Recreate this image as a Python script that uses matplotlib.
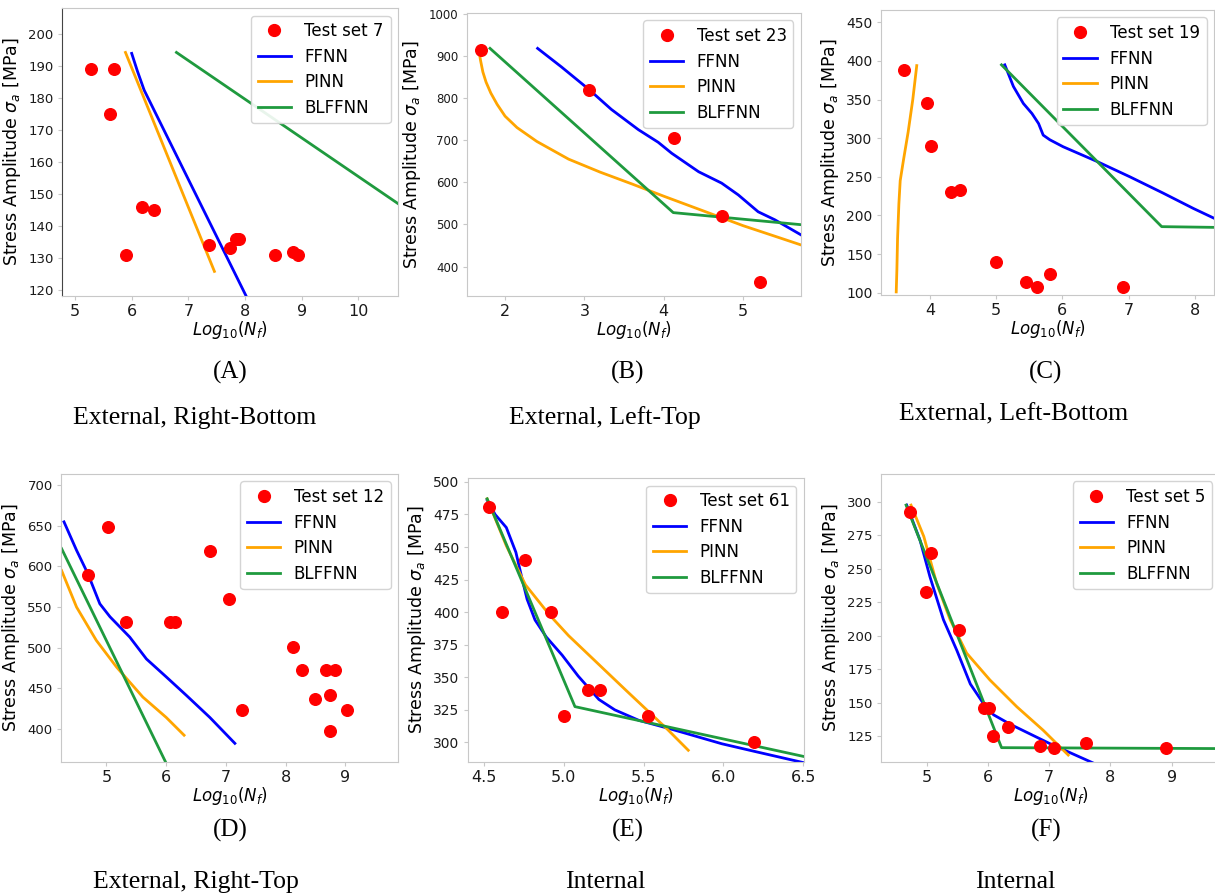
import matplotlib
matplotlib.use("Agg")
import matplotlib.pyplot as plt
from matplotlib.lines import Line2D
import numpy as np

# --- Данные ---
# (A) Test set 7
a_test_x = [5.29, 5.68, 5.62, 5.90, 6.18, 6.39, 7.37, 7.74, 7.84, 7.89, 8.53, 8.84, 8.93]
a_test_y = [189, 189, 175, 131, 146, 145, 134, 133, 136, 136, 131, 132, 131]
a_ffnn_x = [6.00, 6.10, 6.22, 8.05]
a_ffnn_y = [194, 188.5, 182.5, 117]
a_pinn_x = [5.89, 7.46]
a_pinn_y = [194.3, 125.8]
a_bl_x = [6.79, 10.8]
a_bl_y = [194.3, 145.8]

# (B) Test set 23
b_test_x = [1.70, 3.06, 4.13, 4.73, 5.21]
b_test_y = [913, 819, 704, 519, 364]
b_ffnn_x = [2.41, 2.71, 3.06, 3.34, 3.68, 3.93, 4.10, 4.44, 4.73, 4.94, 5.19, 5.40, 5.75]
b_ffnn_y = [918, 874, 820, 773, 725, 695, 669, 625, 598, 570, 530, 511, 473]
b_pinn_x = [1.67, 1.69, 1.72, 1.76, 1.82, 1.90, 2.00, 2.15, 2.40, 2.80, 3.20, 3.60, 4.00, 4.50, 5.00, 5.40, 5.75]
b_pinn_y = [914, 890, 862, 838, 812, 785, 757, 730, 697, 655, 624, 596, 567, 532, 497, 472, 450]
b_bl_x = [1.81, 4.12, 5.75]
b_bl_y = [918, 528, 499]

# (C) Test set 19
c_test_x = [3.61, 3.95, 4.02, 4.32, 4.45, 5.00, 5.45, 5.61, 5.82, 6.92]
c_test_y = [388, 346, 290, 230, 233, 140, 114, 107, 124, 107]
c_ffnn_x = [5.13, 5.26, 5.41, 5.54, 5.64, 5.71, 5.81, 6.01, 6.52, 7.02, 7.52, 7.98, 8.35]
c_ffnn_y = [395, 367, 345, 332, 319, 304, 298, 289, 270, 250, 229, 209, 194]
c_pinn_x = [3.49, 3.50, 3.51, 3.53, 3.55, 3.60, 3.67, 3.74, 3.80]
c_pinn_y = [101, 130, 170, 215, 245, 272, 308, 350, 394]
c_bl_x = [5.08, 7.50, 8.35]
c_bl_y = [395, 185.5, 184.5]

# (D) Test set 12
d_test_x = [4.70, 5.03, 5.33, 6.07, 6.14, 6.74, 7.06, 7.27, 8.12, 8.27, 8.49, 8.67, 8.83, 8.74, 8.74, 9.02]
d_test_y = [590, 649, 531, 531, 531, 619, 560, 423, 501, 472, 437, 472, 472, 442, 397, 423]
d_ffnn_x = [4.29, 4.50, 4.69, 4.89, 5.06, 5.39, 5.67, 6.00, 6.34, 6.73, 7.15]
d_ffnn_y = [655, 620, 591, 554, 538, 513, 486, 464, 441, 414, 382]
d_pinn_x = [4.25, 4.50, 4.83, 5.17, 5.61, 6.00, 6.30]
d_pinn_y = [595, 550, 509, 476, 439, 414, 392]
d_bl_x = [4.25, 6.01]
d_bl_y = [622, 356]

# (E) Test set 61
e_test_x = [4.53, 4.61, 4.76, 4.92, 5.00, 5.15, 5.23, 5.53, 6.19]
e_test_y = [481, 400, 440, 400, 320, 340, 340, 320, 300]
e_ffnn_x = [4.52, 4.57, 4.64, 4.70, 4.74, 4.77, 4.82, 4.89, 4.99, 5.09, 5.22, 5.32, 5.47, 5.68, 5.99, 6.20, 6.52]
e_ffnn_y = [486, 475, 465, 446, 425, 410, 394, 381, 367, 351, 333, 325, 317, 310, 299, 293, 284]
e_pinn_x = [4.52, 4.64, 4.76, 4.91, 5.03, 5.15, 5.27, 5.39, 5.52, 5.65, 5.78]
e_pinn_y = [487, 451, 421, 398, 382, 368, 354, 340, 325, 310, 294]
e_bl_x = [4.52, 5.07, 6.55]
e_bl_y = [487, 327.5, 288]

# (F) Test set 5
f_test_x = [4.72, 5.07, 4.99, 5.53, 5.93, 6.01, 6.08, 6.32, 6.85, 7.08, 7.60, 8.91]
f_test_y = [292, 262, 233, 204, 146, 146, 125, 132, 118, 116.5, 120, 116.5]
f_ffnn_x = [4.67, 4.89, 5.05, 5.27, 5.49, 5.71, 5.93, 6.09, 6.36, 7.01, 7.72]
f_ffnn_y = [297.5, 271, 244, 212, 189, 164, 149, 141, 134, 119.5, 105]
f_pinn_x = [4.74, 4.95, 5.16, 5.38, 5.65, 6.03, 6.47, 6.90, 7.31]
f_pinn_y = [297.5, 274, 239, 212, 187, 167, 147, 129.5, 111]
f_bl_x = [4.66, 6.22, 9.85]
f_bl_y = [297.5, 116.5, 115.8]

test_names = ["Test set 7", "Test set 23", "Test set 19", "Test set 12", "Test set 61", "Test set 5"]
letters = ["(A)", "(B)", "(C)", "(D)", "(E)", "(F)"]
captions = ["External, Right-Bottom", "External, Left-Top", "External, Left-Bottom",
            "External, Right-Top", "Internal", "Internal"]

# --- Оформление ---
W, H = 1215, 896
C_TEST = "red"
C_FFNN = "blue"
C_PINN = "orange"
C_BL = "#1f9a3e"
SPINE = "#c8c8c8"

# положения осей в пикселях: left, top, right, bottom
boxes = [(62, 8, 398, 296), (467, 13, 801, 296), (881, 10, 1214, 295),
         (61, 474, 398, 762), (468, 478, 804, 762), (881, 474, 1220, 762)]
xlims = [(4.77, 10.70), (1.52, 5.73), (3.26, 8.29), (4.24, 9.88), (4.40, 6.505), (4.25, 9.79)]
ylims = [(118.1, 208.2), (330, 1002), (97, 466), (359, 714), (285, 503), (105.8, 320.7)]
xticks = [np.arange(5, 11), np.arange(2, 6), np.arange(4, 9), np.arange(5, 10),
          np.arange(4.5, 6.51, 0.5), np.arange(5, 10)]
yticks = [np.arange(120, 201, 10), np.arange(400, 1001, 100), np.arange(100, 451, 50),
          np.arange(400, 701, 50), np.arange(300, 501, 25), np.arange(125, 301, 25)]
ytick_size = [9.5, 8.5, 10, 9.5, 10, 9.5]
# подписи под графиками (центр x, y буквы, y текста) в пикселях
cap_pos = [(230, 195, 372, 418), (628, 605, 372, 418), (1046, 1014, 372, 414),
           (230, 196, 830, 882), (628, 605, 830, 882), (1046, 1015, 830, 882)]

series = [
    (a_test_x, a_test_y, a_ffnn_x, a_ffnn_y, a_pinn_x, a_pinn_y, a_bl_x, a_bl_y),
    (b_test_x, b_test_y, b_ffnn_x, b_ffnn_y, b_pinn_x, b_pinn_y, b_bl_x, b_bl_y),
    (c_test_x, c_test_y, c_ffnn_x, c_ffnn_y, c_pinn_x, c_pinn_y, c_bl_x, c_bl_y),
    (d_test_x, d_test_y, d_ffnn_x, d_ffnn_y, d_pinn_x, d_pinn_y, d_bl_x, d_bl_y),
    (e_test_x, e_test_y, e_ffnn_x, e_ffnn_y, e_pinn_x, e_pinn_y, e_bl_x, e_bl_y),
    (f_test_x, f_test_y, f_ffnn_x, f_ffnn_y, f_pinn_x, f_pinn_y, f_bl_x, f_bl_y),
]

fig = plt.figure(figsize=(W / 100, H / 100), dpi=100)

for i in range(6):
    l, t, r, b = boxes[i]
    ax = fig.add_axes([l / W, 1 - b / H, (r - l) / W, (b - t) / H])
    tx, ty, fx, fy, px, py, bx, by = series[i]

    ax.scatter(tx, ty, s=70, color=C_TEST, zorder=3)
    ax.plot(fx, fy, color=C_FFNN, lw=2.0)
    ax.plot(px, py, color=C_PINN, lw=2.0)
    ax.plot(bx, by, color=C_BL, lw=2.0)

    ax.set_xlim(*xlims[i])
    ax.set_ylim(*ylims[i])
    ax.set_xticks(xticks[i])
    ax.set_yticks(yticks[i])
    ax.tick_params(length=3, color=SPINE, labelcolor="#1a1a1a", pad=3)
    ax.tick_params(axis="x", labelsize=11.5)
    ax.tick_params(axis="y", labelsize=ytick_size[i])
    for s in ax.spines.values():
        s.set_color(SPINE)
        s.set_linewidth(0.8)
    if i == 0:
        ax.spines["left"].set_color("#444444")

    ax.set_xlabel(r"$Log_{10}(N_f)$", fontsize=12, labelpad=0)
    ax.set_ylabel(r"Stress Amplitude $\sigma_a$ [MPa]", fontsize=12.5, labelpad=4)

    handles = [
        Line2D([], [], ls="none", marker="o", ms=8.5, color=C_TEST, label=test_names[i]),
        Line2D([], [], color=C_FFNN, lw=2.0, label="FFNN"),
        Line2D([], [], color=C_PINN, lw=2.0, label="PINN"),
        Line2D([], [], color=C_BL, lw=2.0, label="BLFFNN"),
    ]
    ax.legend(handles=handles, loc="upper right", fontsize=12, edgecolor="#d0d0d0",
              framealpha=0.9, borderaxespad=0.45, labelspacing=0.45)

    # подписи
    cx1, cx2, y1, y2 = cap_pos[i]
    fig.text(cx1 / W, 1 - y1 / H, letters[i], ha="center", va="center",
             fontsize=18, family="Liberation Serif")
    fig.text(cx2 / W, 1 - y2 / H, captions[i], ha="center", va="center",
             fontsize=18.5, family="Liberation Serif")

fig.savefig("out.png", dpi=100)
